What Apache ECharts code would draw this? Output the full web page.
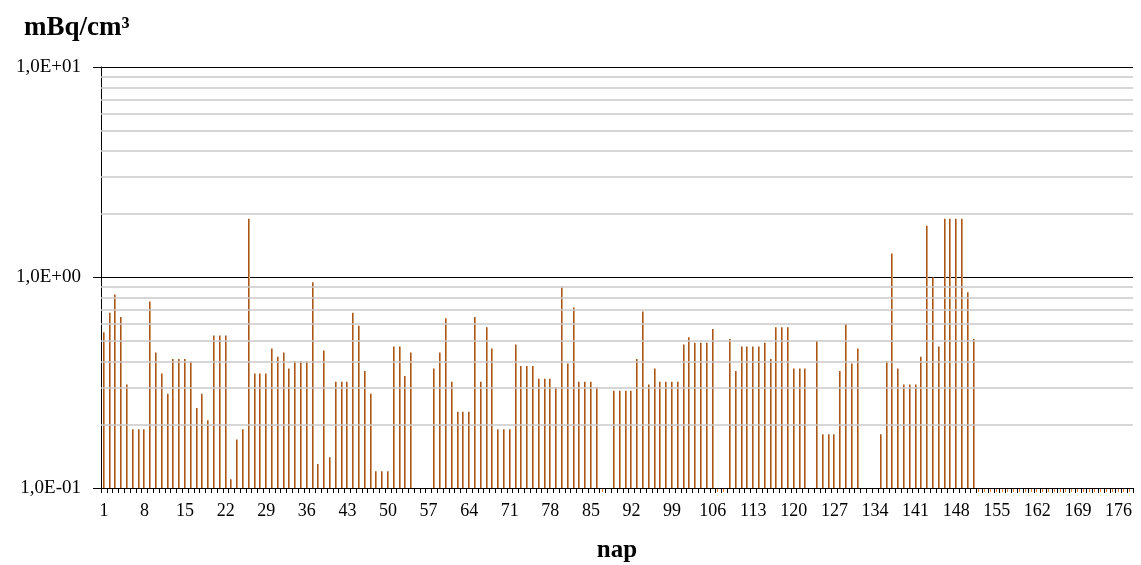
<!DOCTYPE html>
<html><head><meta charset="utf-8">
<script src="https://cdn.jsdelivr.net/npm/echarts@6/dist/echarts.min.js"></script>
<style>html,body{margin:0;padding:0;background:#fff}#c{width:1141px;height:565px}</style>
</head><body><div id="c"></div>
<script>
// category labels: day numbers 1..178
const days = Array.from({length: 178}, (_, i) => String(i + 1));

// activity concentration, mBq/cm3 (null = no measurement, 0 = zero value)
const activity = [
  0.55, 0.68, 0.83, 0.65, 0.31, 0.19, 0.19, 0.19, 0.77, 0.44,
  0.35, 0.28, 0.41, 0.41, 0.41, 0.40, 0.24, 0.28, 0.21, 0.53,
  0.53, 0.53, 0.11, 0.17, 0.19, 1.9, 0.35, 0.35, 0.35, 0.46,
  0.42, 0.44, 0.37, 0.40, 0.40, 0.40, 0.95, 0.13, 0.45, 0.14,
  0.32, 0.32, 0.32, 0.68, 0.59, 0.36, 0.28, 0.12, 0.12, 0.12,
  0.47, 0.47, 0.34, 0.44, null, null, null, 0.37, 0.44, 0.64,
  0.32, 0.23, 0.23, 0.23, 0.65, 0.32, 0.58, 0.46, 0.19, 0.19,
  0.19, 0.48, 0.38, 0.38, 0.38, 0.33, 0.33, 0.33, 0.30, 0.90,
  0.39, 0.72, 0.32, 0.32, 0.32, 0.30, 0, null, 0.29, 0.29,
  0.29, 0.29, 0.41, 0.69, 0.31, 0.37, 0.32, 0.32, 0.32, 0.32,
  0.48, 0.52, 0.49, 0.49, 0.49, 0.57, 0, 0, 0.51, 0.36,
  0.47, 0.47, 0.47, 0.47, 0.49, 0.41, 0.58, 0.58, 0.58, 0.37,
  0.37, 0.37, null, 0.50, 0.18, 0.18, 0.18, 0.36, 0.60, 0.39,
  0.46, null, null, null, 0.18, 0.40, 1.3, 0.37, 0.31, 0.31,
  0.31, 0.42, 1.76, 1.0, 0.47, 1.9, 1.9, 1.9, 1.9, 0.85,
  0.51, 0, 0, 0, 0, 0, 0, 0, 0, 0,
  0, 0, 0, 0, 0, 0, 0, 0, 0, 0,
  0, 0, 0, 0, 0, 0, 0, 0
];

const yTicks = [0.1, 1, 10];
const yTickLabels = ['1,0E-01', '1,0E+00', '1,0E+01'];
const minorGridValues = [0.2, 0.3, 0.4, 0.5, 0.6, 0.7, 0.8, 0.9, 2, 3, 4, 5, 6, 7, 8, 9];
const yUnit = 'mBq/cm\u00B3';
const xName = 'nap';

const yMin = 0.1, yMax = 10;
const serif = '"Liberation Serif", "DejaVu Serif", serif';

const chart = echarts.init(document.getElementById('c'), null, {renderer: 'canvas'});
const seriesData = activity.map((v, i) => [i, v]).filter(d => d[1] !== null);

chart.setOption({
  animation: false,
  backgroundColor: '#fff',
  title: {
    text: yUnit, left: 19, top: 10,
    textStyle: {fontFamily: serif, fontWeight: 'bold', fontSize: 27, color: '#000'}
  },
  grid: {left: 101, top: 67, width: 1032, height: 421, containLabel: false, outerBoundsMode: 'none'},
  xAxis: {
    type: 'category', data: days, boundaryGap: true,
    axisLine: {show: true, lineStyle: {color: '#000', width: 1}},
    axisTick: {show: true, interval: 0, length: 5, lineStyle: {color: '#000'}},
    axisLabel: {interval: 6, fontFamily: serif, fontSize: 18, color: '#000', margin: 14},
    splitLine: {show: false},
    name: xName, nameLocation: 'middle', nameGap: 50,
    nameTextStyle: {fontFamily: serif, fontWeight: 'bold', fontSize: 25, color: '#000'}
  },
  yAxis: {
    type: 'log', logBase: 10, min: yMin, max: yMax,
    axisLine: {show: true, lineStyle: {color: '#000', width: 1}},
    axisTick: {show: true, length: 8, lineStyle: {color: '#000'}},
    axisLabel: {
      fontFamily: serif, fontSize: 19, color: '#000', margin: 20,
      formatter: function (v) {
        const e = Math.round(Math.log10(v));
        const idx = yTicks.findIndex(t => Math.round(Math.log10(t)) === e);
        return idx >= 0 ? yTickLabels[idx] : '';
      }
    },
    splitLine: {show: true, lineStyle: {color: '#000', width: 1}},
    minorTick: {show: false}
  },
  series: [
    {
      type: 'line', data: [], z: 1, silent: true,
      markLine: {
        silent: true, symbol: ['none', 'none'], label: {show: false},
        lineStyle: {color: '#c8c8c8', type: 'solid', width: 1.5},
        emphasis: {disabled: true},
        data: minorGridValues.map(v => ({yAxis: v}))
      }
    },
    {
      type: 'custom', z: 3, silent: true,
      data: seriesData,
      encode: {x: 0, y: 1},
      renderItem: function (params, api) {
        const idx = api.value(0);
        const v = api.value(1);
        const base = api.coord([idx, yMin]);
        const cx = Math.round(base[0]);
        if (!(v > 0)) {
          return {type: 'rect', shape: {x: cx - 1, y: base[1] + 1, width: 1, height: 3},
                  style: {fill: '#E08A3A'}};
        }
        const top = api.coord([idx, v]);
        return {
          type: 'group',
          children: [
            {type: 'rect', shape: {x: cx - 1, y: top[1], width: 1, height: base[1] - top[1]},
             style: {fill: '#A9561C'}},
            {type: 'rect', shape: {x: cx, y: top[1], width: 1, height: base[1] - top[1]},
             style: {fill: '#D09A6A'}}
          ]
        };
      }
    }
  ]
});
</script>
</body></html>
